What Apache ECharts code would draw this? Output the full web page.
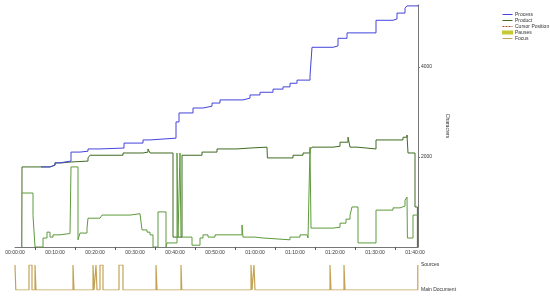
<!DOCTYPE html>
<html>
<head>
<meta charset="utf-8">
<script src="https://cdn.jsdelivr.net/npm/echarts@6/dist/echarts.min.js"></script>
<style>
  html, body { margin: 0; padding: 0; background: #fff; }
  #chart { width: 550px; height: 299px; }
</style>
</head>
<body>
<div id="chart"></div>
<script>
// time in minutes, values in characters
const processTime = [6.5, 8.75, 10, 11.25, 12.5, 14, 16.25, 18.25, 21.25, 27.25, 32, 33.75, 40.25, 41, 44.5, 47, 49.25, 51.25, 57, 58.75, 61.25, 64.5, 67, 68.75, 70.5, 73.75, 74.25, 79.5, 80.75, 83, 90.25, 94.5, 95.5, 97.5, 98, 100.75];
const processChars = [1780, 1820, 1870, 1890, 1910, 2110, 2130, 2180, 2200, 2310, 2380, 2420, 2780, 2980, 3090, 3130, 3200, 3270, 3310, 3380, 3440, 3510, 3560, 3640, 3710, 3800, 4440, 4470, 4640, 4760, 5040, 5070, 5200, 5310, 5360, 5380];

const productTime = [1.7, 1.75, 6.25, 8.75, 10, 11.75, 14, 18.25, 18.75, 27, 32, 33.25, 33.75, 39.5, 41.75, 46.75, 50.5, 55.5, 58.75, 63, 63.1, 67, 69.5, 72, 73.75, 74.25, 79.5, 81.25, 83.25, 83.75, 85.5, 90.25, 94.5, 97, 98, 98.25, 100, 100.6, 100.75];
const productChars = [0, 1780, 1780, 1820, 1870, 1890, 1910, 1980, 2040, 2090, 2110, 2180, 2090, 220, 2040, 2110, 2180, 2200, 2220, 2220, 1980, 1980, 2040, 2090, 2160, 2220, 2240, 2330, 2440, 2220, 2180, 2380, 2380, 2440, 2490, 2090, 890, 0, 0];

const cursorTime = [1.75, 4.5, 5, 7, 8, 8.75, 9.5, 11.25, 13.75, 14, 15.75, 16.25, 18, 18.25, 21.25, 21.75, 28.75, 31.25, 31.75, 33, 33.75, 34.5, 35.75, 37.75, 38, 40.5, 40.75, 41.25, 41.5, 44.25, 46.25, 47, 48.25, 50, 53.25, 56.75, 57, 60, 62, 68.75, 71.25, 73, 73.25, 73.75, 74, 79.5, 81.25, 82.75, 83.75, 84.25, 85.75, 90.25, 94.5, 96.25, 97.5, 98, 98.1, 99.5, 100.75];
const cursorChars = [1200, 700, 0, 200, 330, 220, 270, 300, 310, 1780, 160, 310, 420, 640, 670, 710, 740, 760, 380, 330, 270, 0, 780, 0, 90, 2090, 220, 2090, 220, 40, 200, 270, 220, 270, 270, 490, 220, 200, 160, 220, 270, 310, 200, 2220, 420, 440, 530, 620, 710, 890, 90, 820, 870, 910, 1040, 1110, 200, 710, 710];

// 1 = Sources, 0 = Main Document
const focusTime = [0, 0.2, 3.5, 4.25, 5, 5.25, 14.5, 14.75, 19.5, 19.75, 20.25, 20.5, 21.25, 22, 26, 27, 35.25, 35.5, 41.5, 41.7, 59, 59.25, 59.75, 60, 78.75, 79, 82.25, 82.5, 100.7, 100.75];
const focusState = [1, 0, 1, 0, 1, 0, 1, 0, 1, 0, 1, 0, 1, 0, 1, 0, 1, 0, 1, 0, 1, 0, 1, 0, 1, 0, 1, 0, 1, 1];

const focusNames = ['Main Document', 'Sources'];

const zip = (a, b) => a.map((t, i) => [t, b[i]]);

const fmtTime = (m) => {
  const h = Math.floor(m / 60);
  const mm = Math.round(m % 60);
  return String(h).padStart(2, '0') + ':' + String(mm).padStart(2, '0') + ':00';
};

// thin bar icon with the same box as the filled "Pauses" square
const lineIcon = 'path://M0,0H10V0.01H0ZM0,1.4H10V2.6H0ZM0,3.99H10V4H0Z';

var dom = document.getElementById('chart');
var myChart = echarts.init(dom, null, { renderer: 'canvas' });

var option = {
  backgroundColor: '#fff',
  animation: false,
  textStyle: { fontFamily: 'Liberation Sans, Arial, sans-serif' },
  legend: {
    orient: 'vertical',
    left: 497,
    top: 7,
    itemWidth: 11,
    itemHeight: 4,
    itemGap: 1,
    textStyle: { fontSize: 5, color: '#333', padding: [0, 0, 0, -3] },
    data: [
      { name: 'Process', icon: lineIcon },
      { name: 'Product', icon: lineIcon },
      { name: 'Cursor Position', icon: 'path://M0,0H10V0.01H0ZM0,1.5H2V2.5H0ZM3,1.5H5V2.5H3ZM6,1.5H8V2.5H6ZM9,1.5H10V2.5H9ZM0,3.99H10V4H0Z', itemStyle: { color: '#a0522d' } },
      { name: 'Pauses', icon: 'rect' },
      { name: 'Focus', icon: lineIcon }
    ]
  },
  grid: [
    { left: 15, right: 132, top: 5, height: 242 },
    { left: 15, right: 132, top: 265, height: 25 }
  ],
  xAxis: [
    {
      type: 'value', gridIndex: 0, min: 0, max: 100.75, interval: 10,
      axisLine: { onZero: false, lineStyle: { color: '#777', width: 1 } },
      axisTick: { show: false },
      minorTick: { show: true, splitNumber: 2, length: 3, lineStyle: { color: '#555' } },
      splitLine: { show: false },
      axisLabel: { fontSize: 5, color: '#333', margin: 3, formatter: fmtTime, showMaxLabel: false }
    },
    {
      type: 'value', gridIndex: 1, min: 0, max: 100.75,
      show: false
    }
  ],
  yAxis: [
    {
      type: 'value', gridIndex: 0, position: 'right', min: 0, max: 5380, interval: 2000,
      name: 'Characters', nameLocation: 'middle', nameGap: 27, nameRotate: -90,
      nameTextStyle: { fontSize: 5, color: '#333' },
      axisLine: { show: true, onZero: false, lineStyle: { color: '#777', width: 1 } },
      axisTick: { show: true, length: 2, lineStyle: { color: '#777' } },
      splitLine: { show: false },
      axisLabel: { fontSize: 5, color: '#333', margin: 3, showMinLabel: false, showMaxLabel: false, formatter: (v) => String(v) }
    },
    {
      type: 'value', gridIndex: 1, position: 'right', min: 0, max: 1, interval: 1,
      axisLine: { show: false, onZero: false },
      axisTick: { show: false },
      splitLine: { show: false },
      axisLabel: { fontSize: 5, color: '#333', margin: 3, formatter: (v) => focusNames[v] }
    }
  ],
  series: [
    {
      name: 'Product', type: 'line', step: 'end', xAxisIndex: 0, yAxisIndex: 0,
      data: zip(productTime, productChars), showSymbol: false, symbol: 'none',
      lineStyle: { color: '#3f6b22', width: 1 }, itemStyle: { color: '#3f6b22' }
    },
    {
      name: 'Cursor Position', type: 'line', step: 'end', xAxisIndex: 0, yAxisIndex: 0,
      data: zip(cursorTime, cursorChars), showSymbol: false, symbol: 'none',
      lineStyle: { color: '#5e9a3c', width: 1 }, itemStyle: { color: '#a0522d' }
    },
    {
      name: 'Process', type: 'line', step: 'end', xAxisIndex: 0, yAxisIndex: 0,
      data: zip(processTime, processChars), showSymbol: false, symbol: 'none',
      lineStyle: { color: '#4444dd', width: 1 }, itemStyle: { color: '#4444dd' }
    },
    {
      name: 'Pauses', type: 'bar', xAxisIndex: 0, yAxisIndex: 0,
      data: [], itemStyle: { color: '#c8c832' }
    },
    {
      name: 'Focus', type: 'line', step: 'end', xAxisIndex: 1, yAxisIndex: 1,
      data: zip(focusTime, focusState), showSymbol: false, symbol: 'none',
      lineStyle: { color: '#c4a356', width: 1.2 }, itemStyle: { color: '#c4a356' }
    }
  ]
};

myChart.setOption(option);
window.addEventListener('resize', myChart.resize);
</script>
</body>
</html>
